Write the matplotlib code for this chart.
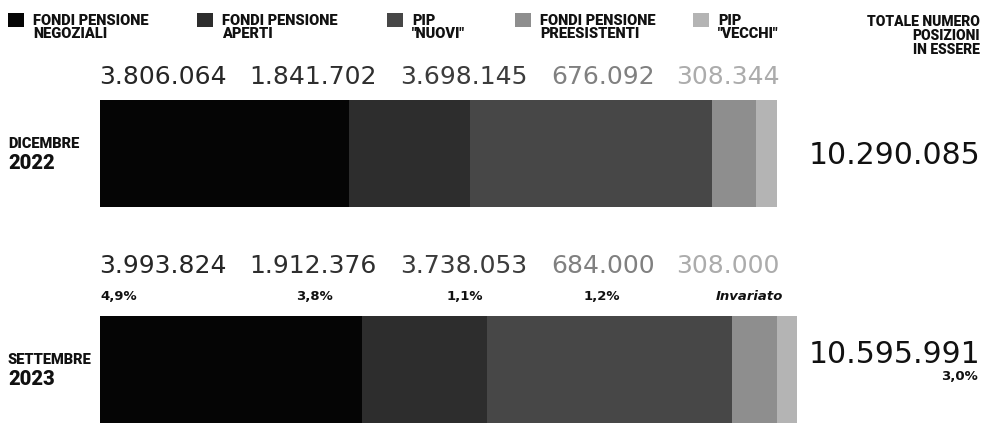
import numpy as np
import matplotlib
matplotlib.use('Agg')
import matplotlib.pyplot as plt
from matplotlib.patches import Rectangle


# Posizioni in essere nelle forme pensionistiche complementari
categories = ['FONDI PENSIONE\nNEGOZIALI', 'FONDI PENSIONE\nAPERTI', 'PIP\n"NUOVI"',
              'FONDI PENSIONE\nPREESISTENTI', 'PIP\n"VECCHI"']
months = ['DICEMBRE', 'SETTEMBRE']
years = ['2022', '2023']
values_2022 = [3806064, 1841702, 3698145, 676092, 308344]
values_2023 = [3993824, 1912376, 3738053, 684000, 308000]
totals = [10290085, 10595991]
changes_2023 = ['4,9%', '3,8%', '1,1%', '1,2%', 'Invariato']
total_change = '3,0%'

W, H = 983, 423
X0 = 100            # pixel where the bars start
PX_PER_UNIT = 65.5e-6

bar_colors = ['#050505', '#2d2d2d', '#474747', '#8e8e8e', '#b4b4b4']
label_colors = ['#262626', '#2e2e2e', '#3c3c3c', '#808080', '#acacac']

BOLD = dict(family='Roboto', weight='black', color='#111111')
THIN = dict(family='DejaVu Sans', weight='normal')


def fmt(v):
    return f'{v:,}'.replace(',', '.')


fig = plt.figure(figsize=(W / 100, H / 100), dpi=100)
ax = fig.add_axes([0, 0, 1, 1])
ax.set_xlim(-X0 / PX_PER_UNIT, (W - X0) / PX_PER_UNIT)
ax.set_ylim(H, 0)
ax.axis('off')


def put(px, py, s, **kw):
    # place text using pixel coordinates of the figure
    fig.text(px / W, 1 - py / H, s, **kw)


# legend
legend_x = [8, 197, 387, 515, 693]
for lx, name, col in zip(legend_x, categories, bar_colors):
    fig.patches.append(Rectangle((lx / W, 1 - 27 / H), 16 / W, 14 / H,
                                 transform=fig.transFigure, color=col, lw=0))
    put(lx + 25, 14, name, fontsize=10.5, va='top', ha='left', linespacing=0.95, **BOLD)
put(980, 15, 'TOTALE NUMERO\nPOSIZIONI\nIN ESSERE', fontsize=10, va='top',
    ha='right', multialignment='right', linespacing=1.0, **BOLD)

# stacked bars
bar_y = [153.5, 369.5]
bar_h = 107
for yc, vals in zip(bar_y, [values_2022, values_2023]):
    left = 0
    for v, col in zip(vals, bar_colors):
        ax.barh(yc, v, left=left, height=bar_h, color=col, linewidth=0)
        left += v

# value labels above each bar
label_right = [227, 377, 527, 655, 780]
for row_y, vals in zip([77, 266], [values_2022, values_2023]):
    for rx, v, col in zip(label_right, vals, label_colors):
        put(rx, row_y, fmt(v), fontsize=18, ha='right', va='center', color=col, **THIN)

# variations for 2023
change_pos = [(100, 'left'), (314, 'center'), (465, 'center'), (602, 'center'), (783, 'right')]
for (cx, ha), txt in zip(change_pos, changes_2023):
    style = 'italic' if not txt.endswith('%') else 'normal'
    put(cx, 296, txt, fontsize=9.5, ha=ha, va='center', family='DejaVu Sans',
        weight='bold', style=style, color='#111111')

# period labels
for yc, m, yr in zip(bar_y, months, years):
    put(8, yc - 10, m, fontsize=10.5, ha='left', va='center', **BOLD)
    put(8, yc + 10, yr, fontsize=14.5, ha='left', va='center', **BOLD)

# totals
put(980, 156, fmt(totals[0]), fontsize=21.5, ha='right', va='center', color='#111111', **THIN)
put(980, 354, fmt(totals[1]), fontsize=21.5, ha='right', va='center', color='#111111', **THIN)
put(978, 377, total_change, fontsize=9.5, ha='right', va='center', family='DejaVu Sans',
    weight='bold', color='#111111')

fig.savefig('out.png', dpi=100, facecolor='white')
